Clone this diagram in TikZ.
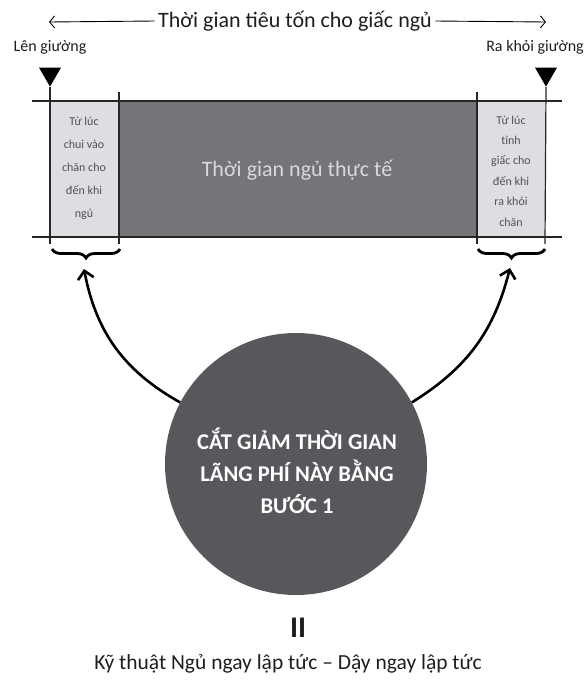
\documentclass[tikz,border=0pt]{standalone}
\usepackage{fontspec}
\setmainfont{Carlito}
\usetikzlibrary{positioning, arrows.meta, shapes.geometric, decorations.pathreplacing}
\definecolor{sleepgray}{HTML}{737579}
\definecolor{lightbox}{HTML}{DCDEE2}
\definecolor{circlegray}{HTML}{58575C}
\definecolor{smalltext}{HTML}{505257}
\definecolor{inktext}{HTML}{1E1E1E}
\tikzset{
  rule/.style={draw=black!85, line width=1.5pt},
  edgeline/.style={draw=black!85, line width=1.2pt},
  marker/.style={isosceles triangle, isosceles triangle apex angle=60, shape border rotate=-90,
    fill=black, inner sep=0pt, minimum height=19pt},
  note/.style={align=center, text=smalltext},
  curly/.style={decorate, decoration={brace, mirror, amplitude=9pt}, line width=2.8pt},
  pointer/.style={-{Straight Barb[length=8pt, width=16pt]}, line width=2.6pt},
  span/.style={-{Straight Barb[length=5pt, width=12pt]}, line width=0.9pt},
}
\begin{document}
\begin{tikzpicture}[x=1pt, y=-1pt, text=inktext]
\useasboundingbox (0,0) rectangle (585,680);
% tieu de phia tren
\node[font=\fontsize{22}{22}\selectfont] (total) at (295,21) {Thời gian tiêu tốn cho giấc ngủ};
\coordinate (tleft) at (49,22);
\coordinate (tright) at (546,22);
\draw[span] (total.west) -- (tleft);
\draw[span] (total.east) -- (tright);
\node[font=\fontsize{16}{16}\selectfont] (inbed) at (50,47) {Lên giường};
\node[font=\fontsize{16}{16}\selectfont] (outbed) at (535,47) {Ra khỏi giường};
\node[marker] (inmark) at (50,74) {};
\node[marker] (outmark) at (546,74) {};

% cac khoi thoi gian
\fill[lightbox] (50,101) rectangle (119,237);
\fill[sleepgray] (119,101) rectangle (477,237);
\fill[lightbox] (477,101) rectangle (545,237);
\draw[rule] (32,101) -- (562,101);
\draw[rule] (32,237) -- (562,237);
\draw[edgeline] (inmark.south) -- (50,244);
\draw[edgeline] (119,92) -- (119,244);
\draw[edgeline] (477,92) -- (477,244);
\draw[edgeline] (outmark.south) -- (545,244);
\node[note, font=\fontsize{12}{23}\selectfont] (fallasleep) at (84,168) {Từ lúc\\chui vào\\chăn cho\\đến khi\\ngủ};
\node[note, font=\fontsize{12}{20.4}\selectfont] (getup) at (511,171) {Từ lúc\\tỉnh\\giấc cho\\đến khi\\ra khỏi\\chăn};
\node[text=white!85!black, font=\fontsize{22}{22}\selectfont] (actual) at (297,170) {Thời gian ngủ thực tế};

% ngoac va mui ten
\draw[curly] (52,249) -- (120,249);
\draw[curly] (478,249) -- (545,249);
\coordinate (ltip) at (84,269);
\coordinate (rtip) at (510,268);
\node[circle, fill=circlegray, minimum size=262pt, inner sep=0pt] (cut) at (296,464) {};
\node[text=white, align=center, font=\fontsize{22.5}{32}\bfseries] (cuttxt) at (297,471)
  {CẮT GIẢM THỜI GIAN\\LÃNG PHÍ NÀY BẰNG\\BƯỚC 1};
\draw[pointer] (cut.152) to[bend left=25] (ltip);
\draw[pointer] (cut.28) to[bend right=22] (rtip);

% phia duoi
\node[font=\fontsize{30}{30}\bfseries] (equiv) at (298,628) {II};
\node[font=\fontsize{21.5}{21.5}\selectfont] (method) at (288,664) {Kỹ thuật Ngủ ngay lập tức – Dậy ngay lập tức};
\end{tikzpicture}
\end{document}
